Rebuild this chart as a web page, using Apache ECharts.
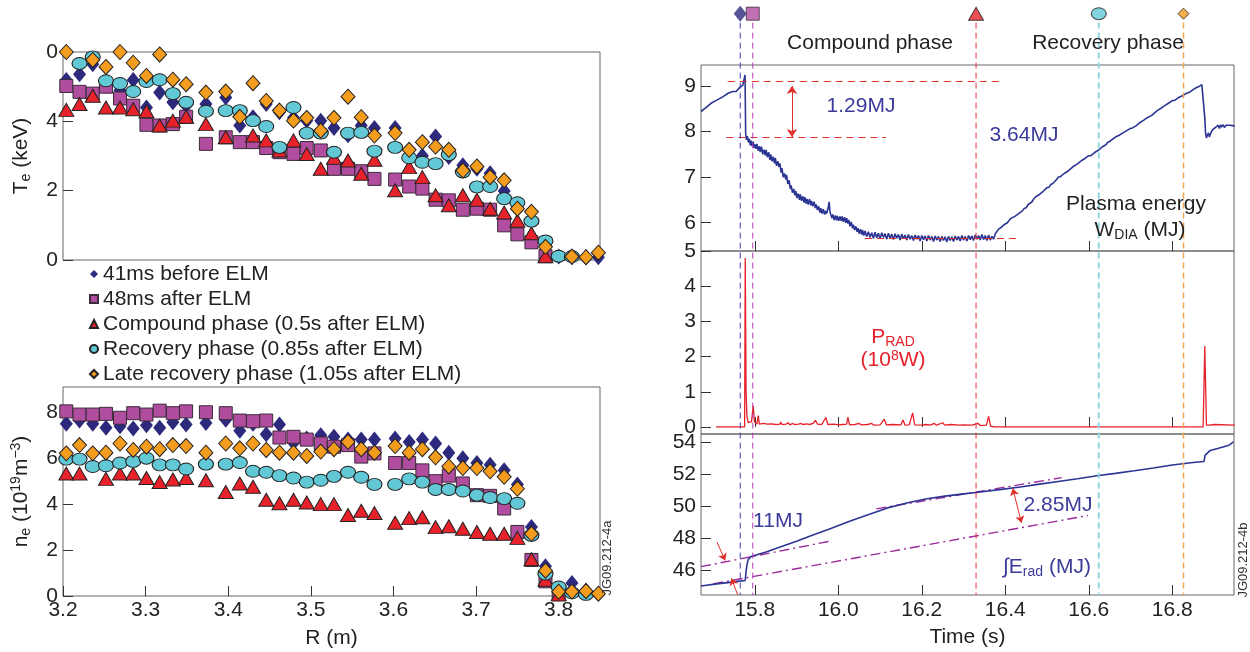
<!DOCTYPE html>
<html>
<head>
<meta charset="UTF-8" />
<script src="https://cdn.jsdelivr.net/npm/echarts@6/dist/echarts.min.js"></script>
<style>
    html, body { margin: 0; background: #fff; }
    #main { width: 1250px; height: 652px; }
</style>
</head>
<body>
<div id="main"></div>
<script>
// ---- left: profiles vs major radius ----
const rChannels = [3.204, 3.220, 3.236, 3.252, 3.269, 3.285, 3.301, 3.317, 3.333, 3.349,
    3.373, 3.397, 3.414, 3.430, 3.446, 3.462, 3.479, 3.495, 3.512, 3.528,
    3.545, 3.561, 3.577, 3.602, 3.619, 3.635, 3.651, 3.667, 3.684, 3.701,
    3.717, 3.734, 3.750, 3.767, 3.784, 3.800, 3.816, 3.833, 3.848];

const profileNames = ['41ms before ELM', '48ms after ELM', 'Compound phase (0.5s after ELM)',
    'Recovery phase (0.85s after ELM)', 'Late recovery phase (1.05s after ELM)'];

const teBefore = [5.19, 5.36, 5.65, 5.02, 4.9, 5.19, 4.4, 4.83, 4.55, 4.45, 4.5, 4.69, 3.88, 4.12, 4.5, 4.26, 4.1, 4.02, 4.02, 3.81,
    3.6, 3.88, 3.81, 3.81, 3.16, 3.01, 3.56, 2.97, 2.73, 2.63, 2.5, 1.99, 1.58, 1.15, 0.48, 0.1, 0.08, 0.08, 0.08];
const teAfter = [5.02, 4.85, 4.8, 5.0, 4.66, 4.45, 3.9, 3.88, 3.92, 4.13, 3.35, 3.54, 3.4, 3.4, 3.23, 3.11, 3.06, 3.23, 3.16, 2.63,
    2.63, 2.56, 2.34, 2.32, 2.12, 2.06, 1.74, 1.72, 1.45, 1.48, 1.45, 1.0, 0.74, 0.51, 0.11, null, null, null, null];
const teCompound = [4.33, 4.5, 4.74, 4.4, 4.4, 4.35, 4.29, 3.88, 4.02, 4.13, 3.92, 3.54, null, 3.59, 3.45, 3.16, 3.45, 3.06, 2.63, 2.95,
    2.87, 2.49, 2.89, 2.01, 2.68, 2.39, 1.87, 1.58, 1.87, 1.74, 1.48, 1.37, 1.13, 0.77, 0.11, null, null, null, null];
const teRecovery = [null, 5.67, 5.86, 5.17, 5.09, 4.86, 5.15, 5.2, 4.8, 4.55, 4.29, 4.31, 4.31, 4.02, 3.85, 3.25, 4.4, 3.66, 3.66, 3.11,
    3.66, 3.68, 3.14, 3.25, 2.95, 2.82, 2.78, 3.04, 2.54, 2.11, 2.12, 1.77, 1.65, 1.12, 0.55, 0.11, 0.1, null, null];
const teLate = [6.0, null, 5.77, 5.57, 6.0, 5.69, 5.31, 5.93, 5.2, 5.07, 4.83, 4.86, 4.13, 5.1, 4.59, 4.31, 4.02, 4.1, 3.73, 4.1,
    4.71, 4.12, 3.59, 3.66, 3.18, 3.4, 3.27, 3.18, 2.58, 2.7, 2.39, 2.3, 1.48, 1.39, 0.38, null, 0.1, 0.08, 0.21];

const neBefore = [7.5, 7.64, 7.5, 7.33, 7.39, 7.29, 7.43, 7.33, 7.57, 7.47, 7.53, 7.67, 7.19, 7.5, 7.04, 7.47, 6.67, 6.86, 7.0, 6.93,
    6.81, 6.81, 6.81, 6.86, 6.71, 6.81, 6.64, 6.24, 6.0, 5.79, 5.71, 5.47, 4.86, 3.0, 1.3, null, 0.57, 0.24, null];
const neAfter = [8.04, 7.9, 7.9, 7.93, 7.76, 7.96, 7.9, 8.07, 7.96, 8.04, 8.0, 7.96, 7.64, 7.61, 7.64, 6.9, 6.93, 6.81, 6.64, 6.5,
    6.57, 6.07, 6.21, 5.79, 5.79, 5.47, 5.0, 5.24, 4.9, 4.39, 4.36, 3.81, 2.79, 1.57, 0.64, 0.07, null, null, null];
const neCompound = [5.33, 5.33, null, 5.1, 5.33, 5.33, 5.14, 4.96, 5.07, 5.14, 5.04, 4.53, 4.9, 4.76, 4.19, 4.04, 4.19, 4.07, 4.0, 4.0,
    3.53, 3.71, 3.61, 3.19, 3.39, 3.43, 3.0, 3.04, 2.93, 2.79, 2.71, 2.71, 2.53, 1.6, 0.71, 0.07, null, null, null];
const neRecovery = [5.96, 5.96, 5.64, 5.67, 5.79, 5.86, 6.0, 5.71, 5.71, 5.53, 5.74, 5.74, 5.81, 5.43, 5.39, 5.24, 5.14, 4.96, 5.04, 5.21,
    5.39, 5.17, 4.86, 4.86, 5.1, 4.96, 4.64, 4.64, 4.57, 4.39, 4.29, 4.24, 4.04, 2.64, 0.96, 0.39, 0.14, 0.07, null];
const neLate = [6.21, 6.57, 6.21, 6.24, 6.64, 6.36, 6.5, 6.39, 6.57, 6.53, 6.24, 6.64, 6.43, 6.64, 6.36, 6.24, 6.24, 6.1, 6.29, 6.39,
    6.71, 6.39, 6.24, 6.53, 6.24, 6.39, 6.04, 5.64, 5.57, 5.57, 5.43, 5.19, 4.67, 2.71, 1.1, 0.19, 0.19, 0.21, 0.1];

const rTicks = [3.2, 3.3, 3.4, 3.5, 3.6, 3.7, 3.8];
const teTicks = [0, 2, 4, 6];
const teTickLabels = ['0', '2', '4', '0'];
const neTicks = [0, 2, 4, 6, 8];

// ---- right: time traces ----
const wdia = [[15.671, 8.44], [15.682, 8.52], [15.695, 8.62], [15.709, 8.69], [15.723, 8.76], [15.736, 8.84], [15.747, 8.88],
    [15.755, 8.88], [15.764, 8.97], [15.771, 9.02], [15.775, 9.04], [15.7765, 9.24], [15.778, 7.95],
    [15.780, 7.82], [15.782, 7.9], [15.785, 7.76], [15.787, 7.84], [15.789, 7.7], [15.791, 7.8], [15.793, 7.68],
    [15.796, 7.78], [15.798, 7.64], [15.800, 7.72], [15.803, 7.62], [15.805, 7.73], [15.808, 7.58], [15.811, 7.68],
    [15.813, 7.55], [15.816, 7.67], [15.819, 7.5], [15.822, 7.6], [15.825, 7.48], [15.827, 7.6], [15.830, 7.44],
    [15.833, 7.55], [15.836, 7.38], [15.838, 7.5], [15.841, 7.35], [15.844, 7.45], [15.847, 7.3], [15.849, 7.42],
    [15.852, 7.25], [15.855, 7.35], [15.858, 7.22], [15.860, 7.3], [15.863, 7.1], [15.865, 7.2], [15.868, 7.0],
    [15.871, 7.08], [15.874, 6.95], [15.876, 7.05], [15.879, 6.85], [15.882, 6.93], [15.885, 6.74], [15.887, 6.82],
    [15.890, 6.66], [15.893, 6.74], [15.896, 6.6], [15.898, 6.7], [15.901, 6.54], [15.904, 6.64], [15.907, 6.5],
    [15.909, 6.62], [15.912, 6.48], [15.915, 6.58], [15.918, 6.44], [15.920, 6.56], [15.923, 6.42], [15.925, 6.52],
    [15.928, 6.4], [15.931, 6.52], [15.934, 6.38], [15.936, 6.48], [15.939, 6.36], [15.942, 6.46], [15.945, 6.32],
    [15.947, 6.4], [15.950, 6.28], [15.953, 6.36], [15.956, 6.22], [15.958, 6.32], [15.961, 6.2], [15.964, 6.3],
    [15.967, 6.18], [15.969, 6.26], [15.972, 6.2], [15.975, 6.3], [15.978, 6.46], [15.980, 6.24], [15.982, 6.18],
    [15.985, 6.1], [15.987, 6.18], [15.990, 6.06], [15.993, 6.16], [15.996, 6.05], [15.998, 6.15], [16.001, 6.04],
    [16.004, 6.14], [16.007, 6.04], [16.009, 6.14], [16.012, 6.02], [16.015, 6.12], [16.018, 6.0], [16.020, 6.1],
    [16.023, 5.98], [16.025, 6.06], [16.028, 5.92], [16.031, 6.02], [16.034, 5.88], [16.036, 5.96], [16.039, 5.84],
    [16.042, 5.92], [16.045, 5.8], [16.047, 5.88], [16.050, 5.76], [16.053, 5.86], [16.056, 5.74], [16.058, 5.84],
    [16.061, 5.72], [16.064, 5.82], [16.068, 5.7], [16.072, 5.8], [16.076, 5.68], [16.080, 5.78], [16.084, 5.66],
    [16.088, 5.79], [16.092, 5.67], [16.096, 5.77], [16.100, 5.65], [16.104, 5.78], [16.108, 5.68], [16.112, 5.76],
    [16.116, 5.64], [16.120, 5.77], [16.124, 5.66], [16.128, 5.75], [16.132, 5.63], [16.136, 5.76], [16.140, 5.66],
    [16.144, 5.74], [16.148, 5.62], [16.152, 5.75], [16.156, 5.65], [16.160, 5.73], [16.164, 5.62], [16.168, 5.74],
    [16.172, 5.64], [16.176, 5.72], [16.180, 5.61], [16.184, 5.73], [16.188, 5.64], [16.192, 5.72], [16.196, 5.6],
    [16.200, 5.72], [16.204, 5.63], [16.208, 5.71], [16.212, 5.6], [16.216, 5.72], [16.220, 5.62], [16.224, 5.7],
    [16.228, 5.59], [16.232, 5.71], [16.236, 5.62], [16.240, 5.7], [16.244, 5.59], [16.248, 5.7], [16.252, 5.61],
    [16.256, 5.69], [16.260, 5.58], [16.264, 5.7], [16.268, 5.61], [16.272, 5.69], [16.276, 5.59], [16.280, 5.71],
    [16.284, 5.62], [16.288, 5.7], [16.292, 5.6], [16.296, 5.72], [16.300, 5.62], [16.304, 5.7], [16.308, 5.6],
    [16.312, 5.72], [16.316, 5.63], [16.320, 5.71], [16.324, 5.61], [16.328, 5.73], [16.332, 5.64], [16.336, 5.72],
    [16.340, 5.62], [16.344, 5.74], [16.348, 5.63], [16.352, 5.72], [16.356, 5.61], [16.360, 5.73], [16.364, 5.62],
    [16.368, 5.7], [16.372, 5.64], [16.376, 5.76], [16.380, 5.8], [16.384, 5.86],
    [16.391, 5.9], [16.396, 5.95], [16.400, 5.99], [16.405, 6.0], [16.409, 6.05], [16.414, 6.1], [16.418, 6.09],
    [16.423, 6.14], [16.427, 6.12], [16.432, 6.2], [16.436, 6.24], [16.441, 6.26], [16.445, 6.31], [16.450, 6.33],
    [16.455, 6.4], [16.459, 6.42], [16.464, 6.46], [16.468, 6.52], [16.473, 6.57], [16.477, 6.58], [16.482, 6.62],
    [16.486, 6.63], [16.491, 6.69], [16.495, 6.71], [16.500, 6.77], [16.505, 6.78], [16.509, 6.84], [16.514, 6.86],
    [16.518, 6.9], [16.523, 6.95], [16.527, 7.0], [16.532, 7.01], [16.536, 7.05], [16.541, 7.08], [16.545, 7.12],
    [16.550, 7.13], [16.555, 7.17], [16.559, 7.2], [16.564, 7.24], [16.568, 7.25], [16.573, 7.29], [16.577, 7.31],
    [16.582, 7.36], [16.586, 7.37], [16.591, 7.41], [16.595, 7.43], [16.600, 7.47], [16.605, 7.47], [16.609, 7.51],
    [16.614, 7.54], [16.618, 7.58], [16.623, 7.59], [16.627, 7.63], [16.632, 7.66], [16.636, 7.7], [16.641, 7.71],
    [16.645, 7.76], [16.650, 7.78], [16.655, 7.82], [16.659, 7.83], [16.664, 7.88], [16.668, 7.88], [16.673, 7.92],
    [16.677, 7.94], [16.682, 7.97], [16.686, 7.98], [16.691, 8.02], [16.695, 8.04], [16.700, 8.07], [16.705, 8.08],
    [16.709, 8.12], [16.714, 8.13], [16.718, 8.17], [16.723, 8.2], [16.727, 8.24], [16.732, 8.25], [16.736, 8.28],
    [16.741, 8.31], [16.745, 8.34], [16.750, 8.35], [16.755, 8.39], [16.759, 8.42], [16.764, 8.46], [16.768, 8.47],
    [16.773, 8.51], [16.777, 8.53], [16.782, 8.57], [16.786, 8.58], [16.791, 8.62], [16.795, 8.64], [16.800, 8.68],
    [16.805, 8.68], [16.809, 8.71], [16.814, 8.74], [16.818, 8.77], [16.823, 8.78], [16.827, 8.81], [16.832, 8.83],
    [16.836, 8.86], [16.841, 8.86], [16.845, 8.89], [16.850, 8.92], [16.855, 8.95], [16.859, 8.96], [16.864, 8.99],
    [16.871, 9.03], [16.875, 8.99], [16.878, 8.3], [16.880, 7.95], [16.882, 7.86], [16.884, 7.92], [16.887, 7.97],
    [16.889, 7.88], [16.891, 7.93], [16.894, 8.0], [16.896, 7.96], [16.899, 8.06], [16.902, 8.02], [16.905, 8.1],
    [16.907, 8.07], [16.910, 8.14], [16.913, 8.07], [16.916, 8.15], [16.918, 8.1], [16.922, 8.15], [16.925, 8.09],
    [16.929, 8.14], [16.933, 8.1], [16.937, 8.14], [16.940, 8.1], [16.945, 8.13], [16.950, 8.12]];

const prad = [[15.707, 0.0], [15.7755, 0.0], [15.777, 4.8], [15.779, 1.0], [15.781, 0.3], [15.784, 0.12], [15.788, 0.1],
    [15.792, 0.15], [15.796, 0.6], [15.799, 0.15], [15.802, 0.1], [15.805, 0.08], [15.808, 0.32], [15.811, 0.08],
    [15.82, 0.1], [15.83, 0.08], [15.84, 0.09], [15.85, 0.07], [15.86, 0.08], [15.862, 0.14], [15.865, 0.07],
    [15.875, 0.08], [15.88, 0.12], [15.884, 0.06], [15.89, 0.1], [15.895, 0.07], [15.905, 0.08], [15.91, 0.1],
    [15.915, 0.07], [15.925, 0.09], [15.93, 0.07], [15.94, 0.1], [15.945, 0.19], [15.95, 0.08], [15.96, 0.07],
    [15.97, 0.27], [15.975, 0.07], [15.99, 0.08], [16.0, 0.06], [16.01, 0.07], [16.02, 0.08], [16.023, 0.28],
    [16.027, 0.06], [16.04, 0.07], [16.05, 0.1], [16.055, 0.06], [16.07, 0.07], [16.08, 0.1], [16.085, 0.05],
    [16.1, 0.06], [16.11, 0.22], [16.115, 0.06], [16.13, 0.07], [16.15, 0.06], [16.155, 0.2], [16.16, 0.05],
    [16.17, 0.06], [16.178, 0.4], [16.183, 0.06], [16.2, 0.05], [16.21, 0.07], [16.22, 0.05], [16.23, 0.1],
    [16.235, 0.05], [16.25, 0.12], [16.255, 0.05], [16.27, 0.07], [16.29, 0.05], [16.3, 0.06], [16.32, 0.05],
    [16.335, 0.1], [16.34, 0.04], [16.355, 0.05], [16.36, 0.3], [16.365, 0.02], [16.375, 0.0], [16.874, 0.0],
    [16.878, 2.3], [16.882, 0.05], [16.89, 0.05], [16.9, 0.07], [16.95, 0.05]];

const erad = [[15.671, 44.99], [15.709, 45.12], [15.755, 45.26], [15.777, 45.33], [15.779, 45.9], [15.781, 46.3],
    [15.784, 46.63], [15.791, 46.84], [15.805, 46.95], [15.827, 47.12], [15.864, 47.47], [15.9, 47.79],
    [15.936, 48.15], [15.982, 48.59], [16.027, 49.05], [16.073, 49.47], [16.118, 49.89], [16.164, 50.2],
    [16.209, 50.45], [16.255, 50.63], [16.3, 50.77], [16.33, 50.86], [16.391, 51.05], [16.436, 51.2],
    [16.482, 51.38], [16.527, 51.55], [16.573, 51.72], [16.624, 51.92], [16.664, 52.06], [16.709, 52.22],
    [16.755, 52.4], [16.8, 52.58], [16.85, 52.74], [16.876, 52.8], [16.879, 53.2], [16.891, 53.5],
    [16.909, 53.62], [16.936, 53.83], [16.947, 54.04]];

// dash-dot fit lines on the integrated radiation
const fitBefore = [[15.671, 46.2], [15.986, 47.83]];
const fitBase = [[15.70, 45.12], [16.598, 49.41]];
const fitAfter = [[16.091, 49.83], [16.535, 51.79]];

// energy reference levels [t0, t1, W]
const wdiaLevels = [[15.735, 16.395, 9.11], [15.732, 16.114, 7.87], [16.064, 16.432, 5.65]];

const phaseTimes = [15.765, 15.795, 16.33, 16.624, 16.827];
const timeTicks = [15.8, 16.0, 16.2, 16.4, 16.6, 16.8];
const wdiaTicks = [6, 7, 8, 9];
const pradTicks = [0, 1, 2, 3, 4, 5];
const eradTicks = [46, 48, 50, 52, 54];

const FONT = 'Liberation Sans';
const styles = [
    { symbol: 'diamond', size: [13, 16], color: '#2d2a7e', border: '#2d2a7e', dash: '#3b3bb0', w: 1 },
    { symbol: 'rect', size: [13, 13], color: '#b14d9e', border: '#3a2a3a', dash: '#b43bb4', w: 1 },
    { symbol: 'triangle', size: [15, 13], color: '#e8222b', border: '#222', dash: '#e8303a', w: 1 },
    { symbol: 'circle', size: [15, 12], color: '#63c8d6', border: '#222', dash: '#8fd6e0', w: 2 },
    { symbol: 'diamond', size: [14, 15], color: '#f39c1e', border: '#222', dash: '#f3a654', w: 1.5 }
];
const teSets = [teBefore, teAfter, teCompound, teRecovery, teLate];
const neSets = [neBefore, neAfter, neCompound, neRecovery, neLate];

function pairs(vals) {
    return rChannels.map((r, i) => [r, vals[i]]).filter(p => p[1] != null);
}

const tickStyle = { inside: true, length: 10, lineStyle: { color: '#333' } };
const labelStyle = { color: '#222', fontSize: 21, fontFamily: FONT };
const subRich = {
    sub: { fontSize: 14, fontFamily: FONT, verticalAlign: 'bottom', padding: [10, 0, 0, 0] },
    sup: { fontSize: 14, fontFamily: FONT, verticalAlign: 'top', padding: [0, 0, 8, 0] }
};

function xAxisR(idx, showLabel) {
    return {
        type: 'value', gridIndex: idx, min: 3.2, max: 3.85,
        axisLine: { show: false }, splitLine: { show: false },
        axisTick: Object.assign({ show: showLabel, customValues: rTicks }, tickStyle),
        axisLabel: Object.assign({ show: showLabel, margin: 4, customValues: rTicks, formatter: v => v.toFixed(1) }, labelStyle),
        name: showLabel ? 'R (m)' : '', nameLocation: 'middle', nameGap: 32,
        nameTextStyle: { color: '#222', fontSize: 21, fontFamily: FONT }
    };
}
function xAxisT(idx, showLabel) {
    return {
        type: 'value', gridIndex: idx, min: 15.671, max: 16.948,
        axisLine: { show: false }, splitLine: { show: false },
        axisTick: Object.assign({ customValues: timeTicks }, tickStyle),
        axisLabel: Object.assign({ show: showLabel, margin: 5, customValues: timeTicks, formatter: v => v.toFixed(1) }, labelStyle),
        name: showLabel ? 'Time (s)' : '', nameLocation: 'middle', nameGap: 32,
        nameTextStyle: { color: '#222', fontSize: 21, fontFamily: FONT }
    };
}
function yAxisV(idx, min, max, ticks, extra) {
    return Object.assign({
        type: 'value', gridIndex: idx, min: min, max: max,
        axisLine: { show: false }, splitLine: { show: false },
        axisTick: Object.assign({ customValues: ticks }, tickStyle),
        axisLabel: Object.assign({ margin: 5, customValues: ticks }, labelStyle)
    }, extra || {});
}

const series = [];
profileNames.forEach((name, k) => {
    const s = styles[k];
    [0, 1].forEach(g => {
        series.push({
            type: 'scatter', name: name, xAxisIndex: g, yAxisIndex: g,
            data: pairs(g === 0 ? teSets[k] : neSets[k]),
            symbol: s.symbol, symbolSize: s.size, z: 2 + k,
            itemStyle: { color: s.color, borderColor: s.border, borderWidth: k === 0 ? 0 : 1, opacity: 1 }
        });
    });
});

series.push({
    type: 'line', xAxisIndex: 2, yAxisIndex: 2, data: wdia, symbol: 'none',
    lineStyle: { color: '#2c3593', width: 1.6 }, z: 3,
    markLine: {
        silent: true, symbol: 'none', label: { show: false },
        lineStyle: { color: '#e0302a', type: [7, 5], width: 1 },
        data: wdiaLevels.map(l => [{ coord: [l[0], l[2]] }, { coord: [l[1], l[2]] }]).concat([
            [{ coord: [15.889, 9.0], symbol: 'arrow', lineStyle: { type: 'solid', color: '#e0302a' } },
             { coord: [15.889, 7.88], symbol: 'arrow' }]
        ]),
        symbolSize: 8
    }
});
series.push({
    type: 'line', xAxisIndex: 3, yAxisIndex: 3, data: prad, symbol: 'none',
    lineStyle: { color: '#e8202a', width: 1.3 }, z: 3
});
series.push({
    type: 'line', xAxisIndex: 4, yAxisIndex: 4, data: erad, symbol: 'none',
    lineStyle: { color: '#2c3593', width: 1.6 }, z: 3,
    markLine: {
        silent: true, label: { show: false }, symbolSize: 7,
        lineStyle: { color: '#e0302a', type: 'solid', width: 1 },
        data: [
            [{ coord: [15.709, 47.75], symbol: 'none' }, { coord: [15.729, 46.59], symbol: 'arrow' }],
            [{ coord: [15.759, 44.42], symbol: 'none' }, { coord: [15.744, 45.47], symbol: 'arrow' }],
            [{ coord: [16.418, 51.1], symbol: 'arrow' }, { coord: [16.439, 48.95], symbol: 'arrow' }]
        ]
    }
});
[fitBefore, fitBase, fitAfter].forEach(f => {
    series.push({
        type: 'line', xAxisIndex: 4, yAxisIndex: 4, data: f, symbol: 'none', z: 2,
        lineStyle: { color: '#9b2a9b', width: 1.4, type: [10, 4, 2, 4] }
    });
});

// phase markers and dashed time lines, drawn on an overlay spanning all three panels
phaseTimes.forEach((t, k) => {
    const s = styles[k];
    series.push({
        type: 'line', xAxisIndex: 5, yAxisIndex: 5, data: [[t, 0.962], [t, 0]], symbol: 'none', z: 5,
        lineStyle: { color: s.dash, width: s.w, type: [6, 4] }
    });
    series.push({
        type: 'scatter', xAxisIndex: 5, yAxisIndex: 5, data: [[t, 0.977]], z: 6,
        symbol: s.symbol, symbolSize: k === 4 ? [11, 11] : s.size,
        itemStyle: { color: s.color, borderColor: s.border, borderWidth: k === 0 ? 0 : 1 }
    });
});

function txt(x, y, text, color, extra) {
    return {
        type: 'text', x: x, y: y, z: 100,
        style: Object.assign({
            text: text, fill: color, fontSize: 21, fontFamily: FONT,
            align: 'center', verticalAlign: 'middle', rich: subRich
        }, extra || {})
    };
}

const chart = echarts.init(document.getElementById('main'));
chart.setOption({
    animation: false,
    backgroundColor: '#fff',
    grid: [
        { left: 63, top: 52, width: 537, height: 208, show: true, borderColor: '#666', borderWidth: 1 },
        { left: 63, top: 387, width: 537, height: 209, show: true, borderColor: '#666', borderWidth: 1 },
        { left: 701, top: 65, width: 533, height: 186, show: true, borderColor: '#666', borderWidth: 1 },
        { left: 701, top: 251, width: 533, height: 183, show: true, borderColor: '#666', borderWidth: 1 },
        { left: 701, top: 434, width: 533, height: 161, show: true, borderColor: '#666', borderWidth: 1 },
        { left: 701, top: 0, width: 533, height: 595, show: false }
    ],
    xAxis: [
        xAxisR(0, false), xAxisR(1, true),
        xAxisT(2, false), xAxisT(3, false), xAxisT(4, true),
        { type: 'value', gridIndex: 5, min: 15.671, max: 16.948, show: false }
    ],
    yAxis: [
        yAxisV(0, 0, 6, teTicks, {
            axisLabel: Object.assign({ margin: 5, customValues: teTicks, formatter: v => teTickLabels[teTicks.indexOf(v)] }, labelStyle),
            name: 'T{sub|e} (keV)', nameLocation: 'middle', nameGap: 30,
            nameTextStyle: { color: '#222', fontSize: 21, fontFamily: FONT, rich: subRich }
        }),
        yAxisV(1, 0, 9.1, neTicks, {
            name: 'n{sub|e} (10{sup|19}m{sup|−3})', nameLocation: 'middle', nameGap: 30,
            nameTextStyle: { color: '#222', fontSize: 21, fontFamily: FONT, rich: subRich }
        }),
        yAxisV(2, 5.38, 9.46, wdiaTicks),
        yAxisV(3, -0.2, 5.0, pradTicks),
        yAxisV(4, 44.42, 54.53, eradTicks),
        { type: 'value', gridIndex: 5, min: 0, max: 1, show: false }
    ],
    legend: {
        orient: 'vertical', left: 84, top: 258, itemWidth: 8, itemHeight: 8, itemGap: 3,
        selectedMode: false, data: profileNames,
        textStyle: { color: '#222', fontSize: 21, fontFamily: FONT, lineHeight: 22 }
    },
    graphic: [
        txt(870, 43, 'Compound phase', '#222'),
        txt(1108, 43, 'Recovery phase', '#222'),
        txt(861, 106, '1.29MJ', '#3b3b9b'),
        txt(1024, 135, '3.64MJ', '#3b3b9b'),
        txt(1136, 204, 'Plasma energy', '#222'),
        txt(1140, 230, 'W{sub|DIA} (MJ)', '#222'),
        txt(893, 337, 'P{sub|RAD}', '#e8202a'),
        txt(893, 360, '(10{sup|8}W)', '#e8202a'),
        txt(778, 521, '11MJ', '#3b3b9b'),
        txt(1058, 505, '2.85MJ', '#3b3b9b'),
        txt(1047, 567, '∫E{sub|rad} (MJ)', '#3b3b9b'),
        { type: 'text', x: 607, y: 558, rotation: Math.PI / 2, z: 100,
          style: { text: 'JG09.212-4a', fill: '#333', fontSize: 13, fontFamily: FONT, align: 'center', verticalAlign: 'middle' } },
        { type: 'text', x: 1243, y: 560, rotation: Math.PI / 2, z: 100,
          style: { text: 'JG09.212-4b', fill: '#333', fontSize: 13, fontFamily: FONT, align: 'center', verticalAlign: 'middle' } }
    ],
    series: series
});
</script>
</body>
</html>
